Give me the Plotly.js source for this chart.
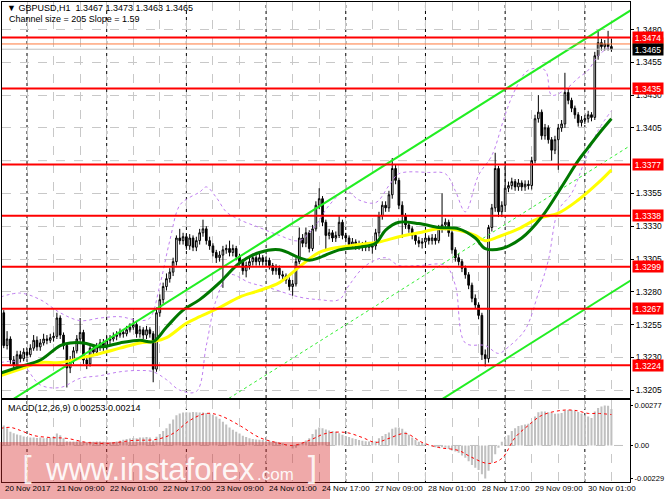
<!DOCTYPE html>
<html><head><meta charset="utf-8">
<script src="https://cdn.plot.ly/plotly-3.0.1.min.js"></script>
<style>html,body{margin:0;padding:0;background:#fff;}#chart{width:665px;height:499px;}</style>
</head><body><div id="chart"></div>
<script>
// ---------- DATA ----------
const barOpen = [
1.3264,1.3239,1.3244,1.3228,1.3224,1.3232,1.3229,1.3234,1.3232,1.3237,
1.3243,1.3238,1.3241,1.3244,1.3243,1.3245,1.3246,1.3260,1.3247,1.3239,
1.3222,1.3228,1.3235,1.3244,1.3249,1.3228,1.3225,1.3237,1.3234,1.3238,
1.3241,1.3238,1.3243,1.3244,1.3246,1.3247,1.3249,1.3248,1.3251,1.3253,
1.3255,1.3248,1.3251,1.3247,1.3251,1.3248,1.3221,1.3264,1.3274,1.3284,
1.3290,1.3295,1.3303,1.3321,1.3319,1.3322,1.3315,1.3321,1.3314,1.3319,
1.3325,1.3328,1.3319,1.3315,1.3310,1.3306,1.3308,1.3312,1.3313,1.3310,
1.3313,1.3307,1.3303,1.3296,1.3300,1.3303,1.3306,1.3303,1.3306,1.3303,
1.3304,1.3300,1.3296,1.3298,1.3293,1.3292,1.3289,1.3284,1.3286,1.3303,
1.3321,1.3317,1.3325,1.3313,1.3328,1.3346,1.3351,1.3333,1.3323,1.3325,
1.3321,1.3323,1.3333,1.3323,1.3321,1.3316,1.3318,1.3315,1.3316,1.3314,
1.3316,1.3314,1.3315,1.3325,1.3338,1.3346,1.3344,1.3354,1.3374,1.3365,
1.3346,1.3338,1.3331,1.3328,1.3323,1.3319,1.3317,1.3318,1.3321,1.3319,
1.3321,1.3319,1.3328,1.3331,1.3333,1.3325,1.3312,1.3306,1.3303,1.3298,
1.3293,1.3285,1.3275,1.3270,1.3262,1.3232,1.3229,1.3329,1.3344,1.3374,
1.3341,1.3346,1.3359,1.3361,1.3364,1.3360,1.3363,1.3360,1.3362,1.3361,
1.3380,1.3412,1.3417,1.3399,1.3405,1.3396,1.3388,1.3396,1.3405,1.3408,
1.3432,1.3426,1.3420,1.3415,1.3409,1.3411,1.3412,1.3415,1.3413,1.3460,
1.3470,1.3467,1.3469,1.3467];
const barClose = [
1.3239,1.3244,1.3228,1.3224,1.3232,1.3229,1.3234,1.3232,1.3237,1.3243,
1.3238,1.3241,1.3244,1.3243,1.3245,1.3246,1.3260,1.3247,1.3239,1.3222,
1.3228,1.3235,1.3244,1.3249,1.3228,1.3225,1.3237,1.3234,1.3238,1.3241,
1.3238,1.3243,1.3244,1.3246,1.3247,1.3249,1.3248,1.3251,1.3253,1.3255,
1.3248,1.3251,1.3247,1.3251,1.3248,1.3221,1.3264,1.3274,1.3284,1.3290,
1.3295,1.3303,1.3321,1.3319,1.3322,1.3315,1.3321,1.3314,1.3319,1.3325,
1.3328,1.3319,1.3315,1.3310,1.3306,1.3308,1.3312,1.3313,1.3310,1.3313,
1.3307,1.3303,1.3296,1.3300,1.3303,1.3306,1.3303,1.3306,1.3303,1.3304,
1.3300,1.3296,1.3298,1.3293,1.3292,1.3289,1.3284,1.3286,1.3303,1.3321,
1.3317,1.3325,1.3313,1.3328,1.3346,1.3351,1.3333,1.3323,1.3325,1.3321,
1.3323,1.3333,1.3323,1.3321,1.3316,1.3318,1.3315,1.3316,1.3314,1.3316,
1.3314,1.3315,1.3325,1.3338,1.3346,1.3344,1.3354,1.3374,1.3365,1.3346,
1.3338,1.3331,1.3328,1.3323,1.3319,1.3317,1.3318,1.3321,1.3319,1.3321,
1.3319,1.3328,1.3331,1.3333,1.3325,1.3312,1.3306,1.3303,1.3298,1.3293,
1.3285,1.3275,1.3270,1.3262,1.3232,1.3229,1.3329,1.3344,1.3374,1.3341,
1.3346,1.3359,1.3361,1.3364,1.3360,1.3363,1.3360,1.3362,1.3361,1.3380,
1.3412,1.3417,1.3399,1.3405,1.3396,1.3388,1.3396,1.3405,1.3408,1.3432,
1.3426,1.3420,1.3415,1.3409,1.3411,1.3412,1.3415,1.3413,1.3460,1.3470,
1.3467,1.3469,1.3467,1.3465];
const barHigh = [
1.3266,1.3250,1.3246,1.3231,1.3235,1.3235,1.3237,1.3237,1.3240,1.3247,
1.3246,1.3244,1.3248,1.3247,1.3248,1.3249,1.3264,1.3262,1.3249,1.3241,
1.3231,1.3238,1.3247,1.3260,1.3251,1.3231,1.3240,1.3240,1.3241,1.3244,
1.3244,1.3246,1.3247,1.3249,1.3250,1.3252,1.3251,1.3254,1.3256,1.3260,
1.3257,1.3254,1.3253,1.3254,1.3253,1.3250,1.3268,1.3278,1.3287,1.3294,
1.3298,1.3306,1.3323,1.3328,1.3325,1.3324,1.3324,1.3323,1.3322,1.3328,
1.3335,1.3330,1.3322,1.3317,1.3312,1.3311,1.3315,1.3316,1.3319,1.3316,
1.3315,1.3309,1.3305,1.3303,1.3306,1.3309,1.3308,1.3309,1.3308,1.3307,
1.3306,1.3302,1.3301,1.3300,1.3296,1.3294,1.3291,1.3289,1.3306,1.3329,
1.3324,1.3329,1.3327,1.3331,1.3349,1.3359,1.3353,1.3335,1.3328,1.3327,
1.3326,1.3338,1.3335,1.3325,1.3323,1.3321,1.3320,1.3319,1.3318,1.3319,
1.3318,1.3318,1.3328,1.3341,1.3349,1.3349,1.3357,1.3382,1.3377,1.3367,
1.3349,1.3340,1.3334,1.3330,1.3325,1.3322,1.3321,1.3324,1.3323,1.3324,
1.3324,1.3331,1.3355,1.3336,1.3335,1.3327,1.3314,1.3309,1.3305,1.3300,
1.3295,1.3287,1.3278,1.3272,1.3264,1.3236,1.3331,1.3347,1.3386,1.3376,
1.3349,1.3379,1.3364,1.3367,1.3366,1.3366,1.3365,1.3365,1.3365,1.3383,
1.3415,1.3430,1.3419,1.3408,1.3407,1.3398,1.3399,1.3408,1.3411,1.3447,
1.3435,1.3428,1.3422,1.3417,1.3414,1.3415,1.3418,1.3417,1.3463,1.3479,
1.3473,1.3472,1.3479,1.3473];
const barLow = [
1.3237,1.3236,1.3225,1.3220,1.3222,1.3226,1.3227,1.3229,1.3230,1.3235,
1.3235,1.3235,1.3239,1.3240,1.3241,1.3242,1.3244,1.3244,1.3236,1.3207,
1.3218,1.3225,1.3233,1.3241,1.3225,1.3221,1.3223,1.3231,1.3231,1.3235,
1.3235,1.3236,1.3240,1.3242,1.3243,1.3245,1.3245,1.3246,1.3249,1.3251,
1.3245,1.3245,1.3244,1.3244,1.3245,1.3211,1.3219,1.3261,1.3271,1.3281,
1.3287,1.3292,1.3300,1.3316,1.3316,1.3312,1.3312,1.3311,1.3311,1.3316,
1.3322,1.3316,1.3312,1.3307,1.3302,1.3303,1.3283,1.3309,1.3307,1.3307,
1.3304,1.3300,1.3293,1.3291,1.3297,1.3300,1.3300,1.3300,1.3300,1.3300,
1.3297,1.3293,1.3293,1.3290,1.3289,1.3286,1.3281,1.3277,1.3284,1.3301,
1.3314,1.3314,1.3310,1.3311,1.3326,1.3343,1.3330,1.3312,1.3320,1.3318,
1.3318,1.3321,1.3320,1.3318,1.3313,1.3313,1.3312,1.3312,1.3311,1.3311,
1.3311,1.3309,1.3312,1.3322,1.3335,1.3341,1.3341,1.3351,1.3362,1.3343,
1.3321,1.3328,1.3325,1.3320,1.3316,1.3314,1.3313,1.3315,1.3316,1.3316,
1.3316,1.3317,1.3325,1.3327,1.3322,1.3309,1.3303,1.3300,1.3295,1.3290,
1.3282,1.3272,1.3267,1.3259,1.3228,1.3223,1.3226,1.3326,1.3341,1.3337,
1.3337,1.3343,1.3356,1.3358,1.3357,1.3357,1.3357,1.3357,1.3358,1.3358,
1.3378,1.3409,1.3396,1.3396,1.3393,1.3380,1.3385,1.3373,1.3402,1.3405,
1.3423,1.3417,1.3412,1.3406,1.3406,1.3408,1.3409,1.3410,1.3411,1.3457,
1.3464,1.3464,1.3464,1.3463];

const maGreenIdx = [0,6,12,18,21,25,30,36,42,46,50,55,60,66,72,78,84,90,93,96,102,108,113,116,120,126,132,138,143,146,151,157,163,169,174,177,181,184];
const maGreen = [1.3218,1.3223,1.3228,1.3239,1.3241,1.3241,1.3238,1.3241,1.3243,1.3242,1.3253,1.3266,1.3274,1.3287,1.3302,1.3310,1.3312,1.3306,1.3304,1.3306,1.3312,1.3314,1.3317,1.3327,1.3333,1.3332,1.3329,1.3328,1.3321,1.3313,1.3313,1.3321,1.3337,1.3360,1.3380,1.3390,1.3403,1.3412];
const maYellowIdx = [0,6,12,18,25,30,36,42,46,50,56,60,66,72,78,84,90,96,102,108,114,120,126,132,138,143,146,150,156,162,168,174,180,184];
const maYellow = [1.3216,1.3221,1.3226,1.3226,1.3230,1.3233,1.3237,1.3241,1.3242,1.3245,1.3256,1.3261,1.3268,1.3276,1.3281,1.3287,1.3299,1.3310,1.3314,1.3316,1.3318,1.3322,1.3325,1.3328,1.3327,1.3323,1.3319,1.3322,1.3328,1.3336,1.3340,1.3350,1.3363,1.3373];
const bandUpIdx = [0,6,12,18,24,30,36,42,45,48,51,54,57,60,62,65,68,72,78,84,90,95,99,104,108,113,117,120,129,134,137,140,144,148,152,155,159,164,166,170,174,177,180,184];
const bandUp = [1.3276,1.3279,1.3274,1.3264,1.3258,1.3260,1.3261,1.3258,1.3260,1.3285,1.3319,1.3346,1.3352,1.3356,1.3360,1.3352,1.3341,1.3335,1.3329,1.3323,1.3319,1.3331,1.3346,1.3357,1.3350,1.3348,1.3361,1.3370,1.3371,1.3370,1.3357,1.3341,1.3369,1.3384,1.3415,1.3434,1.3449,1.3449,1.3430,1.3434,1.3443,1.3449,1.3460,1.3468];
const bandLowIdx = [0,6,12,18,24,30,36,42,46,50,54,59,62,65,69,75,81,90,96,102,105,110,116,120,126,134,137,140,146,150,153,158,162,165,168,172,176,180,184];
const bandLow = [1.3226,1.3226,1.3209,1.3207,1.3214,1.3216,1.3219,1.3220,1.3219,1.3213,1.3205,1.3204,1.3239,1.3274,1.3293,1.3287,1.3283,1.3276,1.3274,1.3274,1.3285,1.3300,1.3306,1.3300,1.3300,1.3300,1.3285,1.3241,1.3239,1.3233,1.3238,1.3251,1.3279,1.3304,1.3342,1.3355,1.3380,1.3403,1.3418];

const channelIdx = [0, 190];
const channelUpper = [1.3192, 1.3495];
const channelMiddle = [1.3089, 1.3392];
const channelLower = [1.2986, 1.3289];

const levelPrices = [1.3474, 1.3435, 1.3377, 1.3338, 1.3299, 1.3267, 1.3224];
const orangeLevel = 1.3469;
const bidPrice = 1.3465;

const priceTicks = [1.3205, 1.3230, 1.3255, 1.3280, 1.3305, 1.3330, 1.3355, 1.3405, 1.3430, 1.3455, 1.3480];
const hiddenTick = 1.3380;

const macdHist = [
0.00138,0.00120,0.00095,0.00085,0.00076,0.00070,0.00062,0.00058,0.00055,0.00055,
0.00052,0.00055,0.00050,0.00052,0.00055,0.00060,0.00083,0.00070,0.00050,0.00030,
0.00028,0.00028,0.00030,0.00035,0.00025,0.00020,0.00025,0.00025,0.00028,0.00028,
0.00025,0.00021,0.00021,0.00024,0.00028,0.00032,0.00040,0.00045,0.00048,0.00052,
0.00050,0.00055,0.00055,0.00058,0.00055,0.00035,0.00060,0.00080,0.00100,0.00120,
0.00150,0.00180,0.00210,0.00222,0.00228,0.00230,0.00229,0.00231,0.00230,0.00229,
0.00228,0.00225,0.00220,0.00212,0.00200,0.00185,0.00165,0.00145,0.00125,0.00108,
0.00095,0.00082,0.00068,0.00058,0.00050,0.00045,0.00042,0.00040,0.00038,0.00035,
0.00033,0.00030,0.00025,0.00020,0.00015,0.00008,0.00000,-0.00021,-0.00015,0.00010,
0.00021,0.00035,0.00050,0.00080,0.00110,0.00125,0.00120,0.00110,0.00104,0.00100,
0.00095,0.00085,0.00075,0.00065,0.00058,0.00050,0.00045,0.00038,0.00032,0.00030,
0.00028,0.00026,0.00030,0.00050,0.00065,0.00080,0.00090,0.00115,0.00125,0.00125,
0.00115,0.00095,0.00075,0.00055,0.00040,0.00025,0.00018,0.00010,0.00002,-0.00008,
-0.00012,-0.00015,-0.00012,-0.00015,-0.00025,-0.00035,-0.00042,-0.00050,-0.00070,-0.00085,
-0.00110,-0.00135,-0.00155,-0.00170,-0.00200,-0.00229,-0.00175,-0.00120,-0.00060,-0.00015,
0.00025,0.00045,0.00070,0.00100,0.00120,0.00135,0.00140,0.00145,0.00150,0.00160,
0.00200,0.00230,0.00235,0.00235,0.00230,0.00225,0.00220,0.00222,0.00225,0.00240,
0.00245,0.00245,0.00240,0.00232,0.00222,0.00210,0.00200,0.00190,0.00235,0.00260,
0.00270,0.00277,0.00275,0.00253];
const signalIdx = [0,3,6,10,15,20,26,32,40,47,52,57,62,66,72,78,83,88,93,98,104,109,113,117,122,127,132,138,142,147,151,155,159,163,169,173,177,180,184];
const signalVal = [0.00118,0.00125,0.00104,0.00069,0.00055,0.00049,0.00021,0.00014,0.00035,0.00042,0.00083,0.00173,0.00222,0.00208,0.00139,0.00055,0.00021,0.00000,0.00035,0.00083,0.00090,0.00055,0.00021,0.00049,0.00083,0.00021,-0.00014,-0.00035,-0.00083,-0.00125,-0.00090,0.00055,0.00139,0.00208,0.00243,0.00243,0.00222,0.00222,0.00214];
const macdTicks = [-0.00229, 0, 0.00277];
const macdTickText = ['-0.00229', '0.00', '0.00277'];

const daySepIdx = [8, 32, 56, 80, 104, 128, 152, 176];
const timeLabelIdx = [0, 16, 32, 48, 64, 80, 96, 112, 128, 144, 160, 176];
const timeLabels = ['20 Nov 2017','21 Nov 09:00','22 Nov 01:00','22 Nov 17:00','23 Nov 09:00','24 Nov 01:00','24 Nov 17:00','27 Nov 09:00','28 Nov 01:00','28 Nov 17:00','29 Nov 09:00','30 Nov 01:00'];

const headerText = '\u25BC GBPUSD,H1  1.3467 1.3473 1.3463 1.3465';
const channelText = 'Channel size = 205 Slope = 1.59';
const macdText = 'MACD(12,26,9) 0.00253 0.00214';

// ---------- CHART ----------
const FONT = 'Liberation Sans, Arial, sans-serif';
const barIdx = barClose.map((_, k) => k + 1);

const traces = [
  {type:'scatter', mode:'lines', x:channelIdx, y:channelMiddle, line:{color:'#33ee33', width:1, dash:'dot'}, xaxis:'x', yaxis:'y', hoverinfo:'skip'},
  {type:'candlestick', x:barIdx, open:barOpen, high:barHigh, low:barLow, close:barClose, xaxis:'x', yaxis:'y',
   increasing:{line:{color:'#000000', width:1}, fillcolor:'#ffffff'},
   decreasing:{line:{color:'#000000', width:1}, fillcolor:'#000000'},
   whiskerwidth:0, hoverinfo:'skip'},
  {type:'scatter', mode:'lines', x:bandUpIdx, y:bandUp, line:{color:'#c080f0', width:1, dash:'dot', shape:'spline'}, hoverinfo:'skip'},
  {type:'scatter', mode:'lines', x:bandLowIdx, y:bandLow, line:{color:'#c080f0', width:1, dash:'dot', shape:'spline'}, hoverinfo:'skip'},
  {type:'scatter', mode:'lines', x:maYellowIdx, y:maYellow, line:{color:'#ffff00', width:3, shape:'spline'}, hoverinfo:'skip'},
  {type:'scatter', mode:'lines', x:maGreenIdx, y:maGreen, line:{color:'#007800', width:3, shape:'spline'}, hoverinfo:'skip'},
  {type:'scatter', mode:'lines', x:channelIdx, y:channelUpper, line:{color:'#22ee22', width:2}, hoverinfo:'skip'},
  {type:'scatter', mode:'lines', x:channelIdx, y:channelLower, line:{color:'#22ee22', width:2}, hoverinfo:'skip'},
  {type:'bar', x:barIdx, y:macdHist, xaxis:'x2', yaxis:'y2', marker:{color:'#c0c0c0', line:{width:0}}, width:0.62, hoverinfo:'skip'},
  {type:'scatter', mode:'lines', x:signalIdx, y:signalVal, xaxis:'x2', yaxis:'y2', line:{color:'#ff0000', width:1, dash:'dot', shape:'spline'}, hoverinfo:'skip'}
];

const shapes = [];
daySepIdx.forEach(v => shapes.push({type:'line', xref:'x', yref:'paper', x0:v, x1:v, y0:0, y1:1, line:{color:'#000000', width:1, dash:'dot'}, layer:'below'}));
shapes.push({type:'line', xref:'paper', yref:'y', x0:0, x1:1, y0:hiddenTick, y1:hiddenTick, line:{color:'#c8c8c8', width:1, dash:'dash'}, layer:'below'});
shapes.push({type:'line', xref:'paper', yref:'y2', x0:0, x1:1, y0:0, y1:0, line:{color:'#c0c0c0', width:1, dash:'dash'}, layer:'below'});
shapes.push({type:'line', xref:'paper', yref:'y', x0:0, x1:1, y0:bidPrice, y1:bidPrice, line:{color:'#c0c0c0', width:1}, layer:'above'});
shapes.push({type:'line', xref:'paper', yref:'y', x0:0, x1:1, y0:orangeLevel, y1:orangeLevel, line:{color:'#ff7a3c', width:1}, layer:'above'});
levelPrices.forEach(p => shapes.push({type:'line', xref:'paper', yref:'y', x0:0, x1:1, y0:p, y1:p, line:{color:'#ff0000', width:2}, layer:'above'}));
// watermark band
shapes.push({type:'rect', xref:'paper', yref:'paper', x0:-0.004, x1:0.5223, y0:-0.04, y1:0.0833, line:{width:0}, fillcolor:'rgba(214,40,40,0.40)', layer:'above'});

const ann = [];
const priceLabel = (p, bg) => ({xref:'paper', x:1, xanchor:'left', xshift:2, yref:'y', y:p, yanchor:'middle', text:p.toFixed(4), showarrow:false,
  bgcolor:bg, font:{family:FONT, size:8.5, color:'#ffffff'}, width:30, height:11, borderpad:0, align:'center'});
ann.push(priceLabel(orangeLevel, '#ff7a3c'));
levelPrices.forEach(p => ann.push(priceLabel(p, '#ff0000')));
ann.push(priceLabel(bidPrice, '#000000'));
timeLabelIdx.forEach((v, k) => ann.push({xref:'x', x:Math.max(v, 0.5), xanchor:'left', xshift:2, yref:'paper', y:-0.0125, yanchor:'middle',
  text:timeLabels[k], showarrow:false, borderpad:0, font:{family:FONT, size:8, color:'#000000'}}));
ann.push({xref:'paper', x:0.005, xanchor:'left', yref:'paper', y:0.9875, yanchor:'middle', text:headerText, showarrow:false, font:{family:FONT, size:9, color:'#000000'}});
ann.push({xref:'paper', x:0.008, xanchor:'left', yref:'paper', y:0.9645, yanchor:'middle', text:channelText, showarrow:false, font:{family:FONT, size:9, color:'#000000'}});
ann.push({xref:'paper', x:0.006, xanchor:'left', yref:'paper', y:0.155, yanchor:'middle', text:macdText, showarrow:false, font:{family:FONT, size:9, color:'#000000'}});
// watermark text
ann.push({xref:'paper', x:(20-2)/628, xanchor:'left', yref:'paper', y:(482-468)/480, yanchor:'middle', text:'[', showarrow:false, font:{family:'DejaVu Sans', size:32, color:'rgba(255,255,255,0.85)'}});
ann.push({xref:'paper', x:(43-2)/628, xanchor:'left', yref:'paper', y:(482-469)/480, yanchor:'middle', text:'www.instaforex', showarrow:false, font:{family:'Liberation Sans, Arial', size:31, color:'rgba(255,255,255,0.92)'}});
ann.push({xref:'paper', x:(255-2)/628, xanchor:'left', yref:'paper', y:(482-474)/480, yanchor:'middle', text:'.com', showarrow:false, font:{family:'Liberation Sans, Arial', size:17, color:'rgba(255,255,255,0.92)'}});
ann.push({xref:'paper', x:(303-2)/628, xanchor:'left', yref:'paper', y:(482-468)/480, yanchor:'middle', text:']', showarrow:false, font:{family:'DejaVu Sans', size:32, color:'rgba(255,255,255,0.85)'}});

const axCommonX = {range:[0.47, 189.6], showticklabels:false, showgrid:true, gridcolor:'#c8c8c8', griddash:'dash', gridwidth:1,
  tick0:0, dtick:8, zeroline:false, showline:true, mirror:true, linecolor:'#000000', linewidth:1, ticks:'', fixedrange:true};

const layout = {
  width:665, height:499, margin:{l:2, r:35, t:2, b:17}, paper_bgcolor:'#ffffff', plot_bgcolor:'#ffffff',
  showlegend:false, hovermode:false, font:{family:FONT, size:9, color:'#000000'},
  xaxis:Object.assign({}, axCommonX, {anchor:'y', rangeslider:{visible:false}}),
  xaxis2:Object.assign({}, axCommonX, {anchor:'y2', matches:'x'}),
  yaxis:{domain:[0.175, 1], range:[1.3199, 1.3501], side:'right', tickmode:'array', tickvals:priceTicks, ticktext:priceTicks.map(v => v.toFixed(4)),
    showgrid:true, gridcolor:'#c8c8c8', griddash:'dash', zeroline:false, showline:true, mirror:true, linecolor:'#000000',
    ticks:'outside', ticklen:3, tickcolor:'#000000', tickfont:{family:FONT, size:8.5}, fixedrange:true},
  yaxis2:{domain:[0, 0.17], range:[-0.00253, 0.00312], side:'right', tickmode:'array', tickvals:macdTicks, ticktext:macdTickText,
    showgrid:false, zeroline:false, showline:true, mirror:true, linecolor:'#000000',
    ticks:'outside', ticklen:2, tickcolor:'#000000', tickfont:{family:FONT, size:7.5}, fixedrange:true},
  shapes:shapes, annotations:ann
};

Plotly.newPlot('chart', traces, layout, {staticPlot:true, displayModeBar:false});
</script></body></html>
